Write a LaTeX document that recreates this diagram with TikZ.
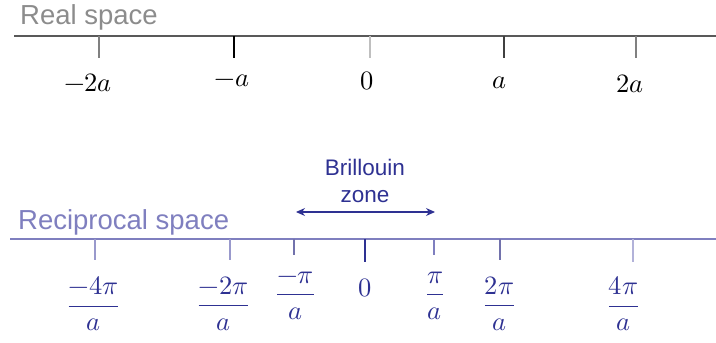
\documentclass[tikz,border=0pt]{standalone}
\usepackage{amsmath}
\usepackage{unicode-math}
\setmainfont{Liberation Sans}
\setmathfont{Latin Modern Math}
\usetikzlibrary{arrows.meta}
\definecolor{realtxt}{HTML}{8C8C8C}
\definecolor{realline}{HTML}{595959}
\definecolor{recline}{HTML}{7F7FBF}
\definecolor{navy}{HTML}{2E3192}
\newcommand{\numgap}{\rule[-4pt]{0pt}{4pt}}
\tikzset{
  axisR/.style={draw=realline, line width=1.4pt},
  axisK/.style={draw=recline, line width=1.4pt},
  tickbar/.style={line width=1.2pt},
  mlab/.style={font=\fontsize{26.5}{30}\selectfont, inner sep=0pt, anchor=center},
  flab/.style={font=\fontsize{26.5}{30}\selectfont, inner sep=0pt, anchor=center, text=navy},
}
\begin{document}
\begin{tikzpicture}[x=1pt,y=-1pt]
\useasboundingbox (0,0) rectangle (716,343);
% Real space
\node[anchor=base west, text=realtxt, font=\fontsize{27.5}{30}\selectfont, inner sep=0pt] (rs) at (20,24) {Real space};
\coordinate (rl) at (14,36);
\coordinate (rr) at (716,36);
\draw[axisR] (rl) -- (rr);
\foreach \n/\x/\c in {m2/99/gray, m1/234/black, z/370/lightgray, p1/504/darkgray, p2/636/gray}{
  \coordinate (rt\n a) at (\x,36);
  \coordinate (rt\n b) at (\x,58);
  \draw[tickbar, draw=\c] (rt\n a) -- (rt\n b);
}
\node[mlab] (lm2) at (88,83) {$-2a$};
\node[mlab] (lm1) at (232,81) {$-a$};
\node[mlab] (lz) at (367,81) {$0$};
\node[mlab] (lp1) at (500,83) {$a$};
\node[mlab] (lp2) at (630,84) {$2a$};
% Reciprocal space
\node[anchor=base west, text=recline, font=\fontsize{27.5}{30}\selectfont, inner sep=0pt] (ks) at (18,229) {Reciprocal space};
\coordinate (kl) at (10,239);
\coordinate (kr) at (716,239);
\draw[axisK] (kl) -- (kr);
\foreach \n/\x/\l/\c in {m4/95/260/recline!80, m2/230/260/recline!80, m1/294/255/recline!90!black, z/365/262/navy, p1/434/255/recline, p2/500/260/recline!90!black, p4/633/262/recline!60}{
  \coordinate (kt\n a) at (\x,239);
  \coordinate (kt\n b) at (\x,\l);
  \draw[tickbar, draw=\c] (kt\n a) -- (kt\n b);
}
\node[flab] (km4) at (93.5,304) {$\dfrac{-4\pi\numgap}{a}$};
\node[flab] (km2) at (223.5,304) {$\dfrac{-2\pi\numgap}{a}$};
\node[flab] (km1) at (295.5,296) {$\dfrac{-\pi\numgap}{a}$};
\node[flab] (kz) at (365,288) {$0$};
\node[flab] (kp1) at (435,296) {$\dfrac{\pi\numgap}{a}$};
\node[flab] (kp2) at (499.5,304) {$\dfrac{2\pi\numgap}{a}$};
\node[flab] (kp4) at (623.5,304) {$\dfrac{4\pi\numgap}{a}$};
% Brillouin zone
\node[align=center, text=navy, font=\fontsize{22.5}{27}\selectfont, inner sep=0pt] (bz) at (365,181) {Brillouin\\zone};
\coordinate (bzl) at (296,212);
\coordinate (bzr) at (435,212);
\draw[navy, line width=1.2pt, {Stealth[length=9pt,width=8pt]}-{Stealth[length=9pt,width=8pt]}] (bzl) -- (bzr);
\end{tikzpicture}
\end{document}
